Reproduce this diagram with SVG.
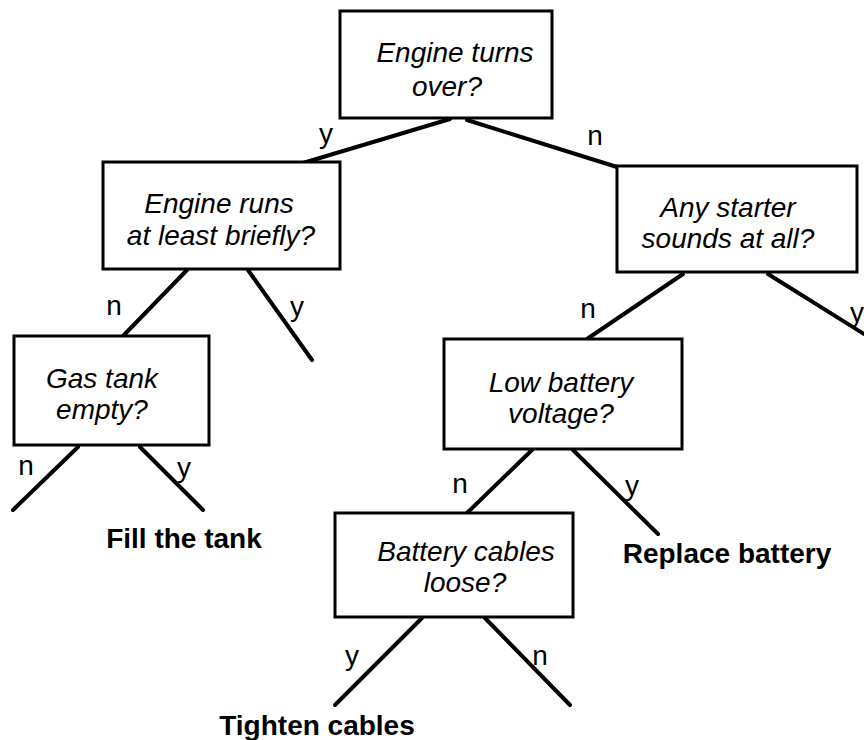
<svg xmlns="http://www.w3.org/2000/svg" width="864" height="740" viewBox="0 0 864 740">
<style>
.box{fill:#fff;stroke:#000;stroke-width:3}
.q{font-family:"Liberation Sans",Arial,sans-serif;font-style:italic;font-size:28px;text-anchor:middle;fill:#000}
.lbl{font-family:"Liberation Sans",Arial,sans-serif;font-size:28px;text-anchor:middle;fill:#000}
.ans{font-family:"Liberation Sans",Arial,sans-serif;font-weight:bold;font-size:28px;text-anchor:middle;fill:#000}
.edge{stroke:#000;stroke-width:4;stroke-linecap:round;fill:none}
</style>
<rect width="864" height="740" fill="#fff"/>
<g id="connectors">
<line class="edge" x1="450" y1="119" x2="303" y2="163"/>
<line class="edge" x1="467" y1="120" x2="617" y2="167"/>
<line class="edge" x1="187" y1="270" x2="123" y2="336"/>
<line class="edge" x1="248" y1="270" x2="312" y2="360"/>
<line class="edge" x1="683" y1="274" x2="587" y2="339"/>
<line class="edge" x1="768" y1="274" x2="872" y2="339"/>
<line class="edge" x1="78" y1="447" x2="13" y2="510"/>
<line class="edge" x1="140" y1="447" x2="203" y2="510"/>
<line class="edge" x1="532" y1="450" x2="467" y2="513"/>
<line class="edge" x1="573" y1="450" x2="658" y2="534"/>
<line class="edge" x1="422" y1="618" x2="335" y2="705"/>
<line class="edge" x1="485" y1="618" x2="570" y2="705"/>
<text class="lbl" x="326" y="143">y</text>
<text class="lbl" x="595" y="145">n</text>
<text class="lbl" x="114" y="315">n</text>
<text class="lbl" x="297" y="316">y</text>
<text class="lbl" x="588" y="318">n</text>
<text class="lbl" x="857" y="322">y</text>
<text class="lbl" x="26" y="475">n</text>
<text class="lbl" x="184" y="477">y</text>
<text class="lbl" x="460" y="493">n</text>
<text class="lbl" x="632" y="495">y</text>
<text class="lbl" x="352" y="665">y</text>
<text class="lbl" x="540" y="665">n</text>
</g>
<g id="n-engine-turns">
<rect class="box" x="340" y="11" width="212" height="107"/>
<text class="q" x="455" y="62">Engine turns</text>
<text class="q" x="447" y="96">over?</text>
</g>
<g id="n-engine-runs">
<rect class="box" x="103" y="162" width="237" height="107"/>
<text class="q" x="219" y="213">Engine runs</text>
<text class="q" x="221" y="245">at least briefly?</text>
</g>
<g id="n-starter">
<rect class="box" x="617" y="166" width="240" height="106"/>
<text class="q" x="728" y="217">Any starter</text>
<text class="q" x="728" y="248">sounds at all?</text>
</g>
<g id="n-gas">
<rect class="box" x="14" y="336" width="195" height="109"/>
<text class="q" x="102" y="388">Gas tank</text>
<text class="q" x="102" y="419">empty?</text>
</g>
<g id="n-low-battery">
<rect class="box" x="444" y="339" width="238" height="110"/>
<text class="q" x="561" y="392">Low battery</text>
<text class="q" x="561" y="423">voltage?</text>
</g>
<g id="n-cables">
<rect class="box" x="335" y="513" width="238" height="104"/>
<text class="q" x="466" y="561">Battery cables</text>
<text class="q" x="465" y="592">loose?</text>
</g>
<g id="t-fill">
<text class="ans" x="184" y="548">Fill the tank</text>
</g>
<g id="t-replace">
<text class="ans" x="727" y="563">Replace battery</text>
</g>
<g id="t-tighten">
<text class="ans" x="317" y="735">Tighten cables</text>
</g>
</svg>
